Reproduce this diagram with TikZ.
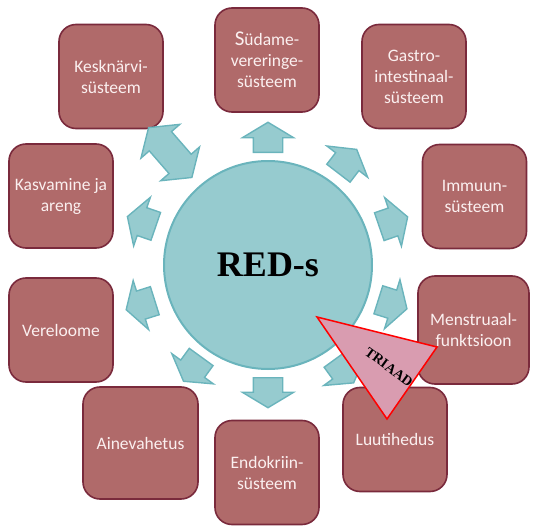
\documentclass[tikz,border=0pt]{standalone}
\usepackage{fontspec}
\setmainfont{Carlito}
\newfontfamily\titlefont{Liberation Serif}
\usetikzlibrary{shapes.arrows, calc}

\definecolor{boxfill}{HTML}{B06A6A}
\definecolor{boxline}{HTML}{7A2A3C}
\definecolor{boxtext}{HTML}{FBF0F0}
\definecolor{hubfill}{HTML}{96CBCF}
\definecolor{hubline}{HTML}{6AB4BC}
\definecolor{triadfill}{HTML}{D99CB0}

\begin{document}
\begin{tikzpicture}[
  x=1pt, y=-1pt,
  system/.style ={rectangle, draw=boxline, line width=1.6pt, rounded corners=17pt,
                  fill=boxfill, minimum width=104pt, minimum height=104pt,
                  align=center, text=boxtext, font=\fontsize{17.5}{21}\selectfont},
  hub/.style    ={circle, draw=hubline, line width=2pt, fill=hubfill,
                  minimum size=208pt, font=\titlefont\bfseries\fontsize{36}{40}\selectfont},
  push/.style   ={single arrow, draw=hubline, line width=1.4pt, fill=hubfill,
                  inner xsep=0pt, inner ysep=14pt, minimum width=0pt, minimum height=30pt,
                  single arrow head extend=11pt, single arrow tip angle=118, anchor=tail},
  swap/.style   ={double arrow, draw=hubline, line width=1.4pt, fill=hubfill,
                  inner xsep=0pt, inner ysep=14pt, minimum width=0pt, minimum height=66pt,
                  double arrow head extend=11pt, double arrow tip angle=110},
]
\useasboundingbox (0,0) rectangle (542,530);

% Body systems
\node[system]                                  (kesk)  at (111,76.5)  {Kesknärvi-\\süsteem};
\node[system]                                  (sydame)at (267,60)    {{\fontsize{21}{21}\selectfont S}üdame-\\vereringe-\\süsteem};
\node[system]                                  (gastro)at (414,76.5)  {Gastro-\\intestinaal-\\süsteem};
\node[system]                                  (immuun)at (474.5,196.5){Immuun-\\süsteem};
\node[system, minimum width=111pt, minimum height=108pt]
                                               (menstr)at (473.5,330) {Menstruaal-\\funktsioon};
\node[system]                                  (luu)   at (395,439.5) {Luutihedus};
\node[system]                                  (endo)  at (267,472.5) {Endokriin-\\süsteem};
\node[system, minimum width=115pt, minimum height=112pt]
                                               (aine)  at (140.5,443) {Ainevahetus};
\node[system]                                  (vere)  at (61,330)    {Vereloome};
\node[system]                                  (kasv)  at (61,196)    {Kasvamine ja\\areng};

% Centre
\node[hub] (reds) at (268,265) {RED-s};

% Arrows out of the centre
\node[push, rotate=90]    (psydame) at ($(reds.center)+(90:112pt)$)    {};
\node[push, rotate=52.5]  (pgastro) at ($(reds.center)+(52.5:115pt)$)  {};
\node[push, rotate=19]    (pimmuun) at ($(reds.center)+(19:117pt)$)    {};
\node[push, rotate=-17.5] (pmenstr) at ($(reds.center)+(-17.5:115pt)$) {};
\node[push, rotate=-54]   (pluu)    at ($(reds.center)+(-54:115pt)$)   {};
\node[push, rotate=-90]   (pendo)   at ($(reds.center)+(-90:112pt)$)   {};
\node[push, rotate=-126]  (paine)   at ($(reds.center)+(-126:113pt)$)  {};
\node[push, rotate=-162.5](pvere)   at ($(reds.center)+(-162.5:118pt)$){};
\node[push, rotate=161]   (pkasv)   at ($(reds.center)+(161:118pt)$)   {};
\node[swap, rotate=131]   (pkesk)   at ($(reds.center)+(131:149pt)$)   {};

% Triad
\coordinate (t1) at (317,317);
\coordinate (t2) at (437,347);
\coordinate (t3) at (387,419);
\draw[red, line width=1.5pt, fill=triadfill, line join=miter] (t1) -- (t2) -- (t3) -- cycle;
\node[rotate=-36, font=\titlefont\bfseries\fontsize{14}{16}\selectfont] (triaad) at (389,367) {TRIAAD};

\end{tikzpicture}
\end{document}
